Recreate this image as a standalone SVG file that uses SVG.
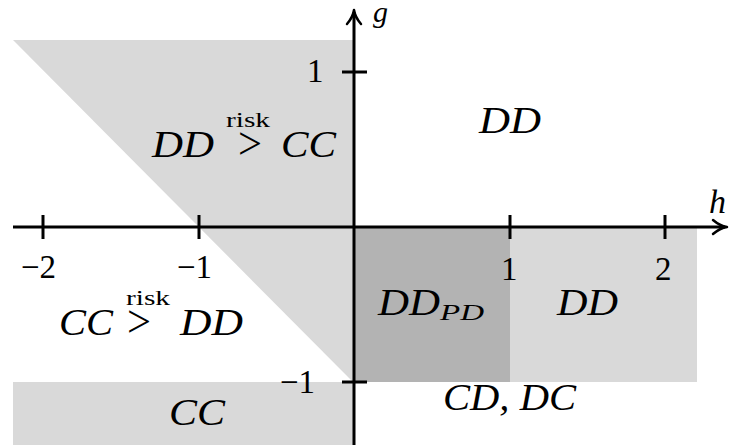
<svg xmlns="http://www.w3.org/2000/svg" width="740" height="445" viewBox="0 0 740 445">
<style>
.m{font-family:"Liberation Serif","DejaVu Serif",serif;font-style:italic;font-size:38px;fill:#000}
.n{font-family:"Liberation Serif","DejaVu Serif",serif;font-size:33px;fill:#000}
.g{font-family:"Liberation Serif","DejaVu Serif",serif;font-size:46px;fill:#000}
.s{font-family:"Liberation Serif","DejaVu Serif",serif;font-size:20px;fill:#000}
.ax{stroke:#000;stroke-width:3;fill:none}
.ah{stroke:#000;stroke-width:2.5;fill:none;stroke-linecap:round;stroke-linejoin:round}
</style>
<rect width="740" height="445" fill="#fff"/>
<g id="regions">
<polygon points="13,40 354,40 354,383" fill="#d9d9d9"/>
<rect x="13" y="382" width="341" height="63" fill="#d9d9d9"/>
<rect x="354" y="228" width="156" height="154" fill="#b3b3b3"/>
<rect x="510" y="228" width="187" height="154" fill="#d9d9d9"/>
</g>
<g id="axes">
<line class="ax" x1="13" y1="227" x2="725" y2="227"/>
<path class="ah" d="M713,220 Q720,226 727,227 Q720,228 713,234"/>
<line class="ax" x1="354" y1="445" x2="354" y2="12"/>
<path class="ah" d="M347,24 Q353,17 354,10 Q355,17 361,24"/>
<line class="ax" x1="43" y1="215" x2="43" y2="239"/>
<line class="ax" x1="199" y1="215" x2="199" y2="239"/>
<line class="ax" x1="510" y1="215" x2="510" y2="239"/>
<line class="ax" x1="665" y1="215" x2="665" y2="239"/>
<line class="ax" x1="342" y1="72" x2="367" y2="72"/>
<line class="ax" x1="342" y1="382" x2="367" y2="382"/>
</g>
<g id="labels">
<text class="m" x="709" y="213" style="font-size:34px">h</text>
<text class="m" x="373" y="22" style="font-size:30px">g</text>
<text class="n" x="307" y="82">1</text>
<text class="n" x="280" y="393">−1</text>
<text class="n" x="21" y="278">−2</text>
<text class="n" x="177" y="278">−1</text>
<text class="n" x="501" y="280">1</text>
<text class="n" x="655" y="280">2</text>
</g>
<g id="region-labels">
<text class="m" x="152" y="157" textLength="62" lengthAdjust="spacingAndGlyphs">DD</text>
<text class="g" x="238" y="159" textLength="24" lengthAdjust="spacingAndGlyphs">&gt;</text>
<text class="s" x="226" y="127" textLength="44" lengthAdjust="spacingAndGlyphs">risk</text>
<text class="m" x="281" y="157" textLength="55" lengthAdjust="spacingAndGlyphs">CC</text>
<text class="m" x="479" y="133" textLength="62" lengthAdjust="spacingAndGlyphs">DD</text>
<text class="m" x="59" y="335" textLength="54" lengthAdjust="spacingAndGlyphs">CC</text>
<text class="g" x="127" y="337" textLength="24" lengthAdjust="spacingAndGlyphs">&gt;</text>
<text class="s" x="126" y="305" textLength="44" lengthAdjust="spacingAndGlyphs">risk</text>
<text class="m" x="180" y="335" textLength="63" lengthAdjust="spacingAndGlyphs">DD</text>
<text class="m" x="378" y="315" textLength="62" lengthAdjust="spacingAndGlyphs">DD</text>
<text class="m" x="440" y="320" style="font-size:24px" textLength="44" lengthAdjust="spacingAndGlyphs">PD</text>
<text class="m" x="557" y="315" textLength="61" lengthAdjust="spacingAndGlyphs">DD</text>
<text class="m" x="443" y="410" textLength="133" lengthAdjust="spacingAndGlyphs">CD, DC</text>
<text class="m" x="169" y="425" textLength="56" lengthAdjust="spacingAndGlyphs">CC</text>
</g>
</svg>
